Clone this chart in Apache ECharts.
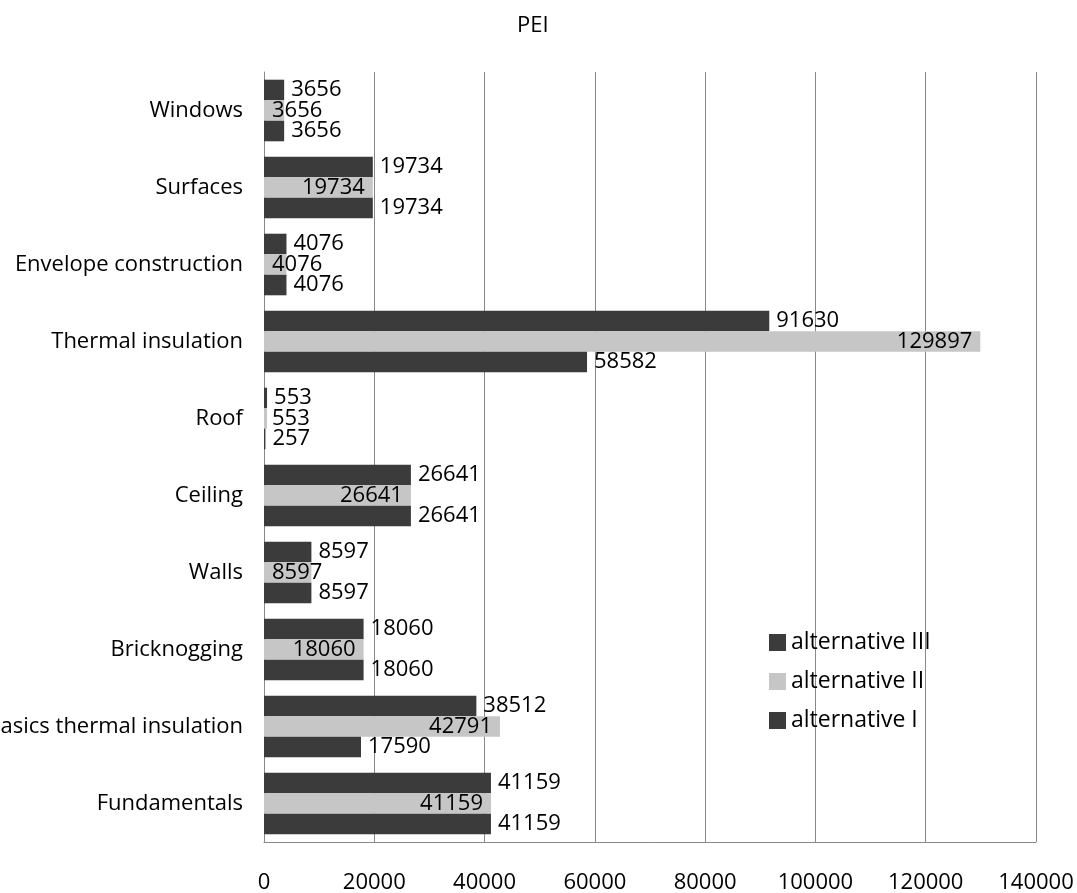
<!DOCTYPE html>
<html>
<head>
<meta charset="utf-8">
<script src="https://cdn.jsdelivr.net/npm/echarts@6/dist/echarts.min.js"></script>
<style>
html,body{margin:0;padding:0;background:#fff;}
#chart{width:1077px;height:893px;}
</style>
</head>
<body>
<div id="chart"></div>
<script>
// Categories bottom-to-top
const categories = ["Fundamentals","Basics thermal insulation","Bricknogging","Walls","Ceiling","Roof","Thermal insulation","Envelope construction","Surfaces","Windows"];
const alternativeIII = [41159, 38512, 18060, 8597, 26641, 553, 91630, 4076, 19734, 3656];
const alternativeII  = [41159, 42791, 18060, 8597, 26641, 553, 129897, 4076, 19734, 3656];
const alternativeI   = [41159, 17590, 18060, 8597, 26641, 257, 58582, 4076, 19734, 3656];
const xTicks = [0, 20000, 40000, 60000, 80000, 100000, 120000, 140000];

const DARK = '#3b3b3b';
const LIGHT = '#c6c6c6';
const FONT = '"Open Sans", sans-serif';
const INSIDE_MIN = 12500; // light-bar labels that don't fit inside the bar end are pushed to the bar start

const fmt = p => String(p.value);

const chart = echarts.init(document.getElementById('chart'), null, {renderer: 'canvas'});
chart.setOption({
  animation: false,
  backgroundColor: '#ffffff',
  title: {
    text: 'PEI',
    left: 512,
    top: 10,
    textStyle: {fontFamily: FONT, fontSize: 22, fontWeight: 'normal', color: '#000'}
  },
  legend: {
    orient: 'vertical',
    left: 764,
    top: 626,
    itemWidth: 17,
    itemHeight: 17,
    itemGap: 16,
    icon: 'rect',
    textStyle: {fontFamily: FONT, fontSize: 23, color: '#000'},
    data: ['alternative III', 'alternative II', 'alternative I']
  },
  grid: {left: 264, right: 41, top: 72, bottom: 51, containLabel: false, outerBoundsMode: 'none'},
  xAxis: {
    type: 'value',
    min: xTicks[0],
    max: xTicks[xTicks.length - 1],
    interval: xTicks[1] - xTicks[0],
    axisLine: {show: true, lineStyle: {color: '#888888', width: 1}},
    axisTick: {show: false},
    splitLine: {show: true, lineStyle: {color: '#888888', width: 1}},
    axisLabel: {
      fontFamily: FONT, fontSize: 22, color: '#000', margin: 30,
      formatter: v => String(v)
    }
  },
  yAxis: {
    type: 'category',
    data: categories,
    axisLine: {show: true, lineStyle: {color: '#888888', width: 1}},
    axisTick: {show: false},
    splitLine: {show: false},
    axisLabel: {fontFamily: FONT, fontSize: 22, color: '#000', margin: 21}
  },
  series: [
    {
      name: 'alternative III', type: 'bar', data: alternativeIII,
      barGap: 0, barCategoryGap: '20%',
      itemStyle: {color: DARK},
      label: {show: true, position: 'right', distance: 7, fontFamily: FONT, fontSize: 22, color: '#000', formatter: fmt}
    },
    {
      name: 'alternative II', type: 'bar',
      data: alternativeII.map(v => ({value: v, label: {position: v < INSIDE_MIN ? 'insideLeft' : 'insideRight'}})),
      barGap: 0, barCategoryGap: '20%',
      itemStyle: {color: LIGHT},
      label: {show: true, distance: 8, fontFamily: FONT, fontSize: 22, color: '#000', formatter: fmt}
    },
    {
      name: 'alternative I', type: 'bar', data: alternativeI,
      barGap: 0, barCategoryGap: '20%',
      itemStyle: {color: DARK},
      label: {show: true, position: 'right', distance: 7, fontFamily: FONT, fontSize: 22, color: '#000', formatter: fmt}
    }
  ]
});
</script>
</body>
</html>
